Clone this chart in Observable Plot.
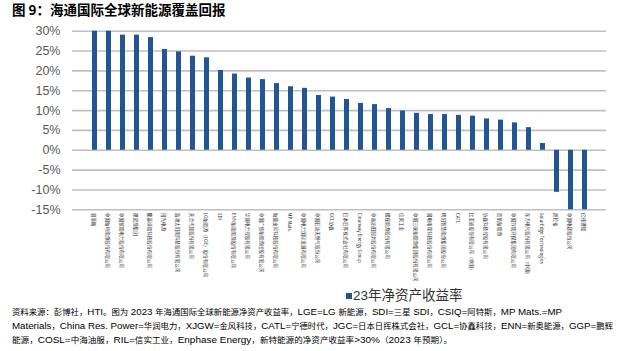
<!DOCTYPE html>
<html><head><meta charset="utf-8">
<script src="https://cdn.jsdelivr.net/npm/d3@7"></script>
<script src="https://cdn.jsdelivr.net/npm/@observablehq/plot@0.6"></script>
<style>
body{margin:0;background:#fff;width:627px;height:351px;position:relative;overflow:hidden;font-family:"Liberation Sans","Noto Sans CJK SC",sans-serif;}
#title{position:absolute;left:12px;top:0px;font-weight:bold;font-size:13.5px;font-family:"Noto Sans CJK SC",sans-serif;color:#000;line-height:18px;white-space:nowrap;}
#chart{position:absolute;left:0;top:0;width:627px;height:290px;}
#chart svg{max-width:none;}
#legend{position:absolute;left:346px;top:287px;font-size:13.5px;color:#333;line-height:18px;white-space:nowrap;}
#legend .sw{display:inline-block;width:6px;height:6px;background:#245593;margin-right:1px;vertical-align:middle;}
#note{position:absolute;left:12px;top:305px;font-size:9.3px;line-height:14px;color:#000;white-space:nowrap;}
#note div{display:block;width:max-content;transform-origin:0 50%;}
#note .cj{font-family:"Noto Sans CJK SC",sans-serif;font-size:8px;}
</style></head>
<body>
<div id="title">图 9：海通国际全球新能源覆盖回报</div>
<div id="chart"></div>
<div id="legend"><span class="sw"></span>23年净资产收益率</div>
<div id="note"></div>
<script>
const companies = [
  "恩菲斯",
  "中国新特能源股份有限公司",
  "中国核能电力股份有限公司",
  "锂资源集团",
  "隆基绿能科技股份有限公司",
  "阳光电源",
  "晶澳太阳能科技股份有限公司",
  "天合光能股份有限公司",
  "LG新能源（LGE）股份有限公司",
  "SDI",
  "ENN新奥能源股份有限公司",
  "华润电力控股有限公司",
  "中国广核新能源控股有限公司",
  "新疆金风科技股份有限公司",
  "MP Mats.",
  "中国电力国际发展有限公司",
  "中国石油天然气股份公司",
  "GCL协鑫",
  "日本日挥株式会社有限公司",
  "Clearway Energy Group",
  "中海油田服务股份有限公司",
  "鹏辉能源股份有限公司",
  "信实工业",
  "中国三峡新能源集团股份有限公司",
  "国电南瑞科技股份有限公司",
  "明阳智慧能源集团股份公司",
  "CATL",
  "比亚迪股份有限公司（中国）",
  "协鑫科技控股有限公司",
  "首航新能源",
  "中国节能环保集团有限公司",
  "东方电气股份有限公司（中国）",
  "SolarEdge Technologies",
  "普拉格",
  "中国电建股份公司",
  "亿纬锂能"
];
const roe = [30, 30, 29.0, 29.0, 28.4, 25.4, 24.8, 23.7, 23.3, 20.1, 19.2, 18.2,
  17.8, 16.8, 16.0, 15.6, 13.8, 13.4, 12.8, 11.8, 11.5, 10.5, 9.9, 9.3,
  9.0, 9.0, 8.8, 8.6, 7.9, 7.6, 6.9, 5.7, 1.7, -10.6, -15, -15];
const yTicks = [-15, -10, -5, 0, 5, 10, 15, 20, 25, 30];
const noteLines = [
  "资料来源：彭博社，HTI。图为 2023 年海通国际全球新能源净资产收益率，LGE=LG 新能源，SDI=三星 SDI，CSIQ=阿特斯，MP Mats.=MP",
  "Materials，China Res. Power=华润电力，XJGW=金风科技，CATL=宁德时代，JGC=日本日挥株式会社，GCL=协鑫科技，ENN=新奥能源，GGP=鹏辉",
  "能源，COSL=中海油服，RIL=信实工业，Enphase Energy，新特能源的净资产收益率>30%（2023 年预期）。"
];
const noteWidths = [550, 601, 440];

const esc = s => s.replace(/&/g, "&amp;").replace(/</g, "&lt;").replace(/>/g, "&gt;");
const note = document.getElementById("note");
noteLines.forEach((line, i) => {
  const div = document.createElement("div");
  div.innerHTML = esc(line).replace(/([\u3000-\u303f\u4e00-\u9fff\uff00-\uffef]+)/g, '<span class="cj">$1</span>');
  note.appendChild(div);
  const w = div.getBoundingClientRect().width;
  div.style.transform = `scaleX(${noteWidths[i] / w})`;
});

const data = companies.map((name, i) => ({name, roe: roe[i]}));

const chart = Plot.plot({
  width: 627,
  height: 290,
  marginTop: 30.7,
  marginBottom: 80.7,
  marginLeft: 72,
  marginRight: 21,
  style: {background: "transparent"},
  x: {domain: companies, paddingInner: 0.65, paddingOuter: 0.325, axis: null},
  y: {domain: [-15, 30], axis: null},
  marks: [
    Plot.ruleY(yTicks, {stroke: "#c0c0c0", strokeWidth: 1.6}),
    Plot.barY(data, {x: "name", y: "roe", fill: "#245593"}),
    Plot.axisY(yTicks, {label: null, tickSize: 0, tickPadding: 12, tickFormat: d => d + "%", fontSize: 12.5, color: "#595959", fontFamily: "Liberation Sans, sans-serif"}),
    Plot.text(data, {x: "name", frameAnchor: "bottom", text: "name", rotate: 90, textAnchor: "start", dy: 3, dx: -3, fontSize: 4.6, fill: "#333", fontFamily: "Noto Sans CJK SC, sans-serif"})
  ]
});
document.getElementById("chart").appendChild(chart);
</script>
</body></html>
